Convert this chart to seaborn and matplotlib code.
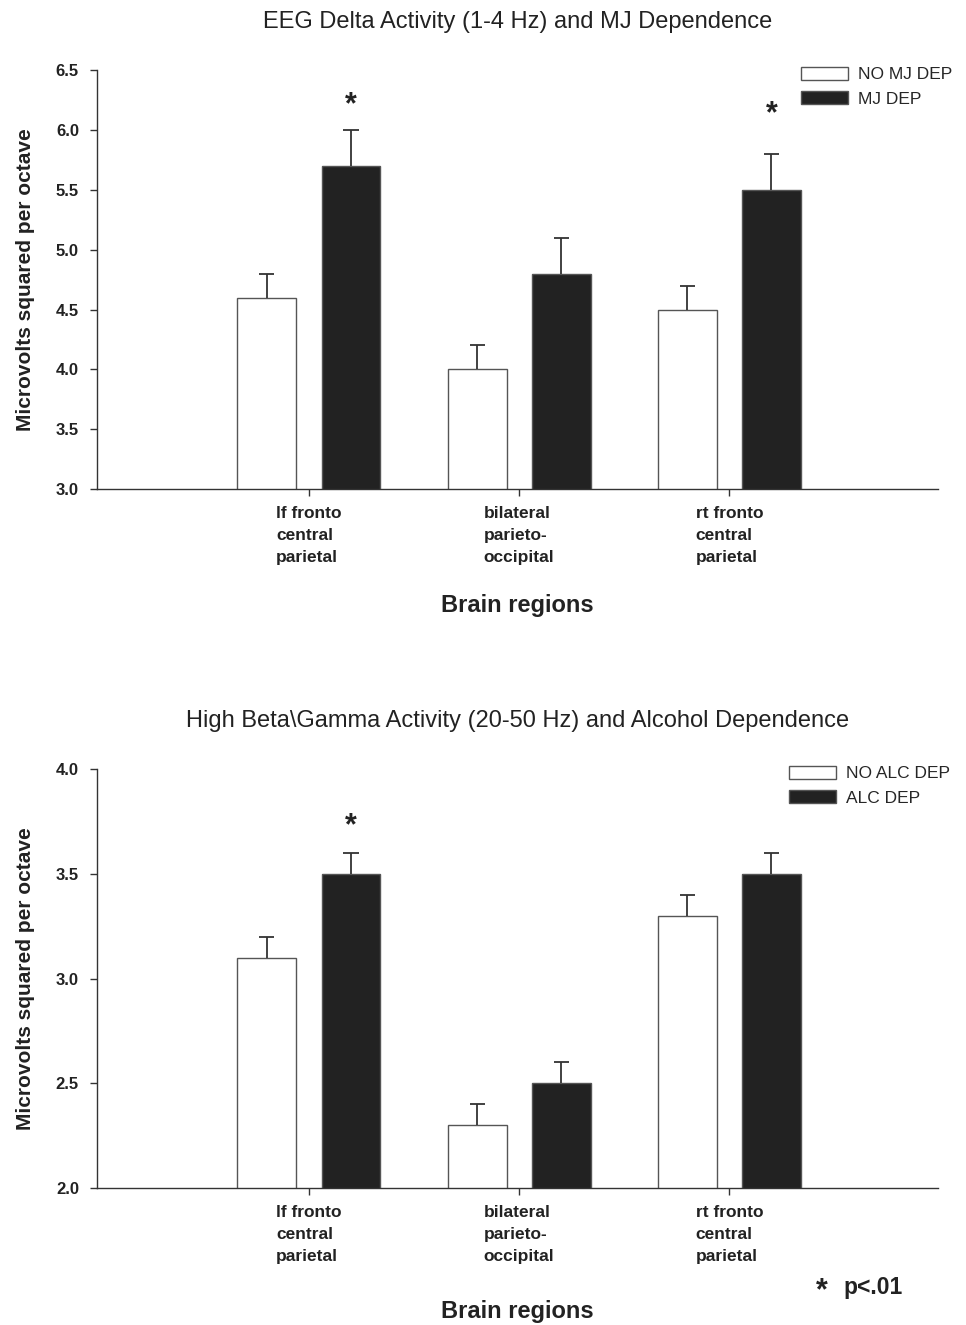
import matplotlib
matplotlib.use("Agg")
import matplotlib.pyplot as plt
import seaborn as sns
import pandas as pd
import numpy as np
from matplotlib.patches import Patch

regions = ["lf fronto\ncentral\nparietal", "bilateral\nparieto-\noccipital", "rt fronto\ncentral\nparietal"]

top_groups = ["NO MJ DEP", "MJ DEP"]
top_no = [4.6, 4.0, 4.5]
top_yes = [5.7, 4.8, 5.5]
top_no_err = [0.2, 0.2, 0.2]
top_yes_err = [0.3, 0.3, 0.3]
top_star_y = [6.21, None, 6.13]

bot_groups = ["NO ALC DEP", "ALC DEP"]
bot_no = [3.1, 2.3, 3.3]
bot_yes = [3.5, 2.5, 3.5]
bot_no_err = [0.1, 0.1, 0.1]
bot_yes_err = [0.1, 0.1, 0.1]
bot_star_y = [3.725, None, None]

sns.set_theme(style="ticks")
plt.rcParams['font.family'] = ['Liberation Sans', 'DejaVu Sans']

fig = plt.figure(figsize=(9.66, 13.25), dpi=100)
ax1 = fig.add_axes([0.1004, 0.6309, 0.8706, 0.3162])
ax2 = fig.add_axes([0.1004, 0.1034, 0.8706, 0.3162])

colors = ["white", "#222222"]
edge = "#555555"
txt = "#222222"


def panel(ax, groups, no, yes, no_err, yes_err, star_y, ylim, yticks, title,
          leg_anchor, xlabelpad):
    df = pd.DataFrame({
        "region": regions * 2,
        "group": [groups[0]] * 3 + [groups[1]] * 3,
        "value": no + yes,
    })
    sns.barplot(data=df, x="region", y="value", hue="group", hue_order=groups,
                order=regions, palette=colors, edgecolor=edge, linewidth=1.0,
                gap=0.3, width=0.8, errorbar=None, ax=ax, legend=False)
    bars = [p for p in ax.patches][:6]
    errs = no_err + yes_err
    vals = no + yes
    capw = 0.036
    for p, v, e in zip(bars, vals, errs):
        cx = p.get_x() + p.get_width() / 2
        ax.vlines(cx, v, v + e, color="#333333", linewidth=1.3, zorder=1)
        ax.hlines(v + e, cx - capw, cx + capw, color="#333333", linewidth=1.3, zorder=1)
    for i, sy in enumerate(star_y):
        if sy is not None:
            p = bars[3 + i]
            cx = p.get_x() + p.get_width() / 2
            ax.text(cx, sy, "*", ha="center", va="center", fontsize=22,
                    fontweight="bold", color=txt)
    ax.set_xlim(-1.008, 2.992)
    ax.set_ylim(*ylim)
    ax.set_yticks(yticks)
    ax.set_yticklabels([f"{t:.1f}" for t in yticks], fontsize=12, fontweight="bold", color=txt)
    ax.set_xticks(range(3))
    ax.set_xticklabels(regions, fontsize=12.5, fontweight="bold", color=txt,
                       multialignment="left", linespacing=1.6)
    ax.tick_params(axis="both", direction="out", length=5, width=1, color="#333333")
    ax.tick_params(axis="y", pad=8)
    ax.tick_params(axis="x", pad=7)
    sns.despine(ax=ax)
    for s in ["left", "bottom"]:
        ax.spines[s].set_color("#333333")
        ax.spines[s].set_linewidth(1.0)
    ax.set_ylabel("Microvolts squared per octave", fontsize=15, fontweight="bold",
                  color=txt, labelpad=15)
    ax.set_xlabel("Brain regions", fontsize=17, fontweight="bold", color=txt,
                  labelpad=xlabelpad)
    ax.set_title(title, fontsize=17, color=txt, pad=30)
    handles = [Patch(facecolor=c, edgecolor=edge, linewidth=1.0) for c in colors]
    ax.legend(handles, groups, loc="upper left", bbox_to_anchor=leg_anchor,
              frameon=False, fontsize=12.5, handlelength=2.7, handleheight=0.8,
              handletextpad=0.55, labelspacing=0.5, borderaxespad=0)


panel(ax1, top_groups, top_no, top_yes, top_no_err, top_yes_err, top_star_y,
      (3.0, 6.5), [3.0, 3.5, 4.0, 4.5, 5.0, 5.5, 6.0, 6.5],
      "EEG Delta Activity (1-4 Hz) and MJ Dependence", (0.829, 1.025), 21)
panel(ax2, bot_groups, bot_no, bot_yes, bot_no_err, bot_yes_err, bot_star_y,
      (2.0, 4.0), [2.0, 2.5, 3.0, 3.5, 4.0],
      "High Beta\\Gamma Activity (20-50 Hz) and Alcohol Dependence", (0.815, 1.025), 26)

fig.text(0.845, 0.0255, "*", fontsize=22, fontweight="bold", color=txt, ha="left", va="center")
fig.text(0.873, 0.0285, "p<.01", fontsize=16.5, fontweight="bold", color=txt, ha="left", va="center")

fig.savefig("out.png", dpi=100, facecolor="white")
